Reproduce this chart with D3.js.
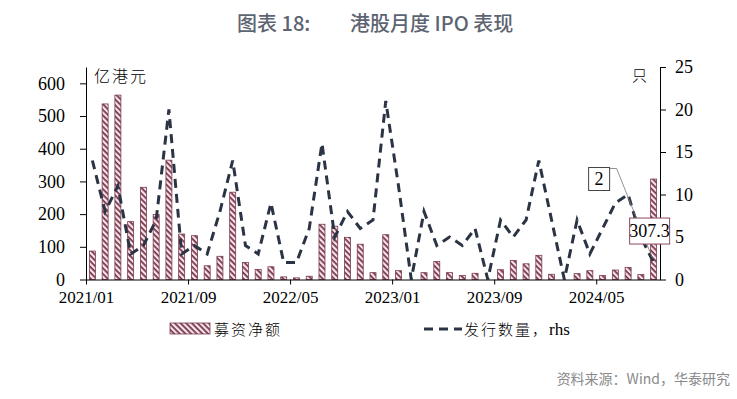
<!DOCTYPE html>
<html>
<head>
<meta charset="utf-8">
<script src="https://cdn.jsdelivr.net/npm/d3@7"></script>
<style>
  html, body { margin: 0; padding: 0; background: #fff; }
  .tickTxt text { font-family: 'Liberation Serif', 'Times New Roman', serif; font-size: 18px; fill: #000; }
  .cjk { font-family: 'Noto Sans CJK SC', sans-serif; }
</style>
</head>
<body>
<div id="chart"></div>
<script>
// months on the category axis
let months = [
  '2021/01', '2021/02', '2021/03', '2021/04', '2021/05', '2021/06', '2021/07', '2021/08', '2021/09', '2021/10', '2021/11', '2021/12',
  '2022/01', '2022/02', '2022/03', '2022/04', '2022/05', '2022/06', '2022/07', '2022/08', '2022/09', '2022/10', '2022/11', '2022/12',
  '2023/01', '2023/02', '2023/03', '2023/04', '2023/05', '2023/06', '2023/07', '2023/08', '2023/09', '2023/10', '2023/11', '2023/12',
  '2024/01', '2024/02', '2024/03', '2024/04', '2024/05', '2024/06', '2024/07', '2024/08', '2024/09'
];
// 募资净额, 亿港元 (left axis)
let fundsRaised = [
  87, 537, 564, 177, 282, 199, 365, 139, 134, 42, 71, 267,
  52, 31, 39, 8, 5, 10, 169, 163, 129, 108, 21, 137,
  27, 0, 21, 55, 21, 12, 19, 0, 30, 58, 48, 74,
  16, 0, 18, 27, 12, 29, 37, 15, 307.3
];
// 发行数量, 只 (right axis)
let ipoCount = [
  14, 8, 11, 3, 4, 7, 20, 3, 4, 3, 8, 14,
  4, 3, 9, 2, 2, 6, 16, 5, 8, 6, 7, 21,
  11, 0, 8, 4, 5, 4, 6, 0, 7, 5, 7, 14,
  7, 0, 7, 3, 6, 9, 10, 5, 2
];
let leftTicks = [0, 100, 200, 300, 400, 500, 600];
let rightTicks = [0, 5, 10, 15, 20, 25];
let xTickMonths = ['2021/01', '2021/09', '2022/05', '2023/01', '2023/09', '2024/05'];

let width = 737, height = 399;
let plot = {left: 86, right: 660, top: 67, bottom: 279.5};

let svg = d3.select('#chart').append('svg')
  .attr('width', width)
  .attr('height', height)
  .style('background', '#fff');

// stripe pattern for bars
let pattern = svg.append('defs').append('pattern')
  .attr('id', 'stripes')
  .attr('patternUnits', 'userSpaceOnUse')
  .attr('width', 4)
  .attr('height', 4)
  .attr('patternTransform', 'rotate(45)');
pattern.append('rect').attr('width', 4).attr('height', 4).attr('fill', '#f9e3e8');
pattern.append('rect').attr('width', 4).attr('height', 1.7).attr('fill', '#6e2f45');

// scales
let xCell = d3.scaleBand().domain(months).range([plot.left, plot.right]).padding(0);
let xIdx = d3.scaleLinear().domain([0, months.length]).range([plot.left, plot.right]);
let yL = d3.scaleLinear().domain([0, 650]).range([plot.bottom, plot.top]);
let yR = d3.scaleLinear().domain([0, 25]).range([plot.bottom, plot.top]);
let step = xCell.bandwidth();
let barW = step * 0.47;

// bars
svg.append('g').selectAll('rect')
  .data(fundsRaised)
  .enter().append('rect')
  .attr('x', (d, i) => xCell(months[i]) + (step - barW) / 2)
  .attr('y', d => yL(d))
  .attr('width', barW)
  .attr('height', d => yL(0) - yL(d))
  .attr('fill', 'url(#stripes)')
  .attr('stroke', '#7a3a50')
  .attr('stroke-width', 0.8);

// dashed line for count
let line = d3.line()
  .x((d, i) => xCell(months[i]) + step / 2)
  .y(d => yR(d));
svg.append('path')
  .datum(ipoCount)
  .attr('d', line)
  .attr('fill', 'none')
  .attr('stroke', '#2b3444')
  .attr('stroke-width', 3)
  .attr('stroke-dasharray', '9,6');

// axes
svg.append('g')
  .attr('class', 'tickTxt')
  .attr('transform', `translate(${plot.left},0)`)
  .call(d3.axisLeft(yL).tickValues(leftTicks).tickSize(6).tickPadding(15).tickSizeOuter(0))
  .call(g => g.selectAll('line,path').attr('stroke', '#000'));

svg.append('g')
  .attr('class', 'tickTxt')
  .attr('transform', `translate(${plot.right},0)`)
  .call(d3.axisRight(yR).tickValues(rightTicks).tickSize(6).tickPadding(9).tickSizeOuter(0))
  .call(g => g.selectAll('line,path').attr('stroke', '#000'));

svg.append('g')
  .attr('class', 'tickTxt')
  .attr('transform', `translate(0,${plot.bottom})`)
  .call(d3.axisBottom(xIdx)
    .tickValues(xTickMonths.map(m => months.indexOf(m)))
    .tickFormat(i => months[i])
    .tickSize(5).tickPadding(6).tickSizeOuter(0))
  .call(g => g.selectAll('line,path').attr('stroke', '#000'))
  .call(g => g.selectAll('text').style('font-size', '17px'));

// unit labels
svg.append('text').attr('class', 'cjk')
  .attr('x', plot.left + 8).attr('y', 82)
  .attr('font-size', 16).attr('font-weight', 300).attr('letter-spacing', 2)
  .text('亿港元');
svg.append('text').attr('class', 'cjk')
  .attr('x', plot.right - 28).attr('y', 81)
  .attr('font-size', 15).attr('font-weight', 300)
  .text('只');

// data labels on the last month
let last = months.length - 1;
let lastX = xCell(months[last]) + step / 2;
let lastFund = fundsRaised[last];
let lastCount = ipoCount[last];

let cntBox = {x: lastX - 65, y: yR(lastCount) - 95, w: 21, h: 23};
svg.append('polyline')
  .attr('points', [
    [cntBox.x + cntBox.w, cntBox.y + 1],
    [cntBox.x + cntBox.w + 7, cntBox.y + 1],
    [lastX - 1, yR(lastCount) - 4]
  ].map(p => p.join(',')).join(' '))
  .attr('fill', 'none')
  .attr('stroke', '#777')
  .attr('stroke-width', 0.8);
svg.append('rect')
  .attr('x', cntBox.x).attr('y', cntBox.y)
  .attr('width', cntBox.w).attr('height', cntBox.h)
  .attr('fill', '#fff').attr('stroke', '#444').attr('stroke-width', 1);
svg.append('text')
  .attr('x', cntBox.x + cntBox.w / 2).attr('y', cntBox.y + cntBox.h / 2)
  .attr('text-anchor', 'middle').attr('dy', '0.35em')
  .style('font-family', "'Liberation Serif', serif").style('font-size', '18px')
  .text(lastCount);

let fundBox = {x: lastX - 24, y: yL(lastFund) + 39, w: 40, h: 26};
svg.append('rect')
  .attr('x', fundBox.x).attr('y', fundBox.y)
  .attr('width', fundBox.w).attr('height', fundBox.h)
  .attr('fill', '#fff').attr('stroke', '#8a4a5e').attr('stroke-width', 1);
svg.append('text')
  .attr('x', fundBox.x + fundBox.w / 2).attr('y', fundBox.y + fundBox.h / 2)
  .attr('text-anchor', 'middle').attr('dy', '0.35em')
  .style('font-family', "'Liberation Serif', serif").style('font-size', '18px')
  .text(lastFund);

// title
svg.append('text').attr('class', 'cjk')
  .attr('x', 237).attr('y', 31)
  .attr('font-size', 20).attr('font-weight', 500).attr('fill', '#5c6471')
  .text('图表 18:');
svg.append('text').attr('class', 'cjk')
  .attr('x', 350).attr('y', 31)
  .attr('font-size', 20).attr('font-weight', 500).attr('fill', '#5c6471')
  .text('港股月度 IPO 表现');

// legend
let legend = svg.append('g');
legend.append('rect')
  .attr('x', 170).attr('y', 323).attr('width', 40).attr('height', 11)
  .attr('fill', 'url(#stripes)').attr('stroke', '#7a3a50').attr('stroke-width', 0.8);
legend.append('text').attr('class', 'cjk')
  .attr('x', 214).attr('y', 335)
  .attr('font-size', 15).attr('font-weight', 300).attr('letter-spacing', 2)
  .text('募资净额');
legend.append('line')
  .attr('x1', 424).attr('x2', 462).attr('y1', 329).attr('y2', 329)
  .attr('stroke', '#2b3444').attr('stroke-width', 3).attr('stroke-dasharray', '9,6');
let lt = legend.append('text')
  .attr('x', 464).attr('y', 335);
lt.append('tspan').attr('class', 'cjk')
  .attr('font-size', 15).attr('font-weight', 300).attr('letter-spacing', 2)
  .text('发行数量，');
lt.append('tspan')
  .style('font-family', "'Liberation Serif', serif").style('font-size', '17px')
  .text('rhs');

// source
svg.append('text').attr('class', 'cjk')
  .attr('x', 730).attr('y', 384)
  .attr('text-anchor', 'end')
  .attr('font-size', 14).attr('fill', '#8a8a8a')
  .text('资料来源：Wind，华泰研究');
</script>
</body>
</html>
